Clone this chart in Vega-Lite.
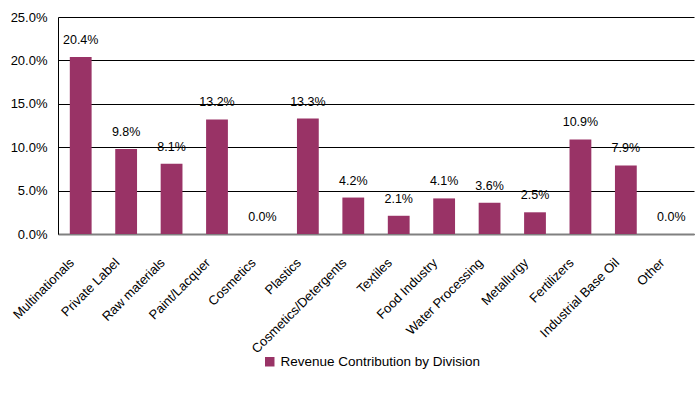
{
  "$schema": "https://vega.github.io/schema/vega-lite/v6.json",
  "width": 636,
  "height": 217,
  "autosize": {"type": "none"},
  "padding": {"left": 58, "top": 17, "right": 2, "bottom": 165},
  "background": "white",
  "config": {
    "font": "Liberation Sans",
    "view": {"stroke": null}
  },
  "data": {
    "values": [
      {"division": "Multinationals", "value": 0.204},
      {"division": "Private Label", "value": 0.098},
      {"division": "Raw materials", "value": 0.081},
      {"division": "Paint/Lacquer", "value": 0.132},
      {"division": "Cosmetics", "value": 0.0},
      {"division": "Plastics", "value": 0.133},
      {"division": "Cosmetics/Detergents", "value": 0.042},
      {"division": "Textiles", "value": 0.021},
      {"division": "Food Industry", "value": 0.041},
      {"division": "Water Processing", "value": 0.036},
      {"division": "Metallurgy", "value": 0.025},
      {"division": "Fertilizers", "value": 0.109},
      {"division": "Industrial Base Oil", "value": 0.079},
      {"division": "Other", "value": 0.0}
    ]
  },
  "encoding": {
    "x": {
      "field": "division",
      "type": "nominal",
      "sort": null,
      "scale": {"paddingInner": 0.52, "paddingOuter": 0.26},
      "axis": {
        "title": null,
        "labelAngle": -45,
        "labelFontSize": 13,
        "labelColor": "#000000",
        "labelPadding": 22,
        "labelOffset": -13,
        "ticks": false,
        "domainColor": "#808080",
        "domainWidth": 2,
        "labelLimit": 200
      }
    },
    "y": {
      "field": "value",
      "type": "quantitative",
      "scale": {"domain": [0, 0.25], "nice": false},
      "axis": {
        "title": null,
        "format": ".1%",
        "values": [0, 0.05, 0.1, 0.15, 0.2, 0.25],
        "labelFontSize": 13,
        "labelColor": "#000000",
        "labelPadding": 11,
        "ticks": false,
        "domainColor": "#000000",
        "gridColor": "#000000",
        "gridWidth": 1
      }
    }
  },
  "layer": [
    {
      "mark": {"type": "bar", "color": "#993366"},
      "encoding": {
        "color": {
          "datum": "Revenue Contribution by Division",
          "type": "nominal",
          "scale": {"range": ["#993366"]},
          "legend": {
            "title": null,
            "orient": "none",
            "legendX": 205,
            "legendY": 338,
            "symbolType": "square",
            "symbolSize": 90,
            "symbolStrokeWidth": 0,
            "labelFontSize": 13.5,
            "labelColor": "#000000",
            "labelLimit": 400
          }
        }
      }
    },
    {
      "mark": {"type": "text", "baseline": "bottom", "dy": -10, "fontSize": 12.5, "color": "#000000"},
      "encoding": {
        "text": {"field": "value", "type": "quantitative", "format": ".1%"}
      }
    }
  ]
}
